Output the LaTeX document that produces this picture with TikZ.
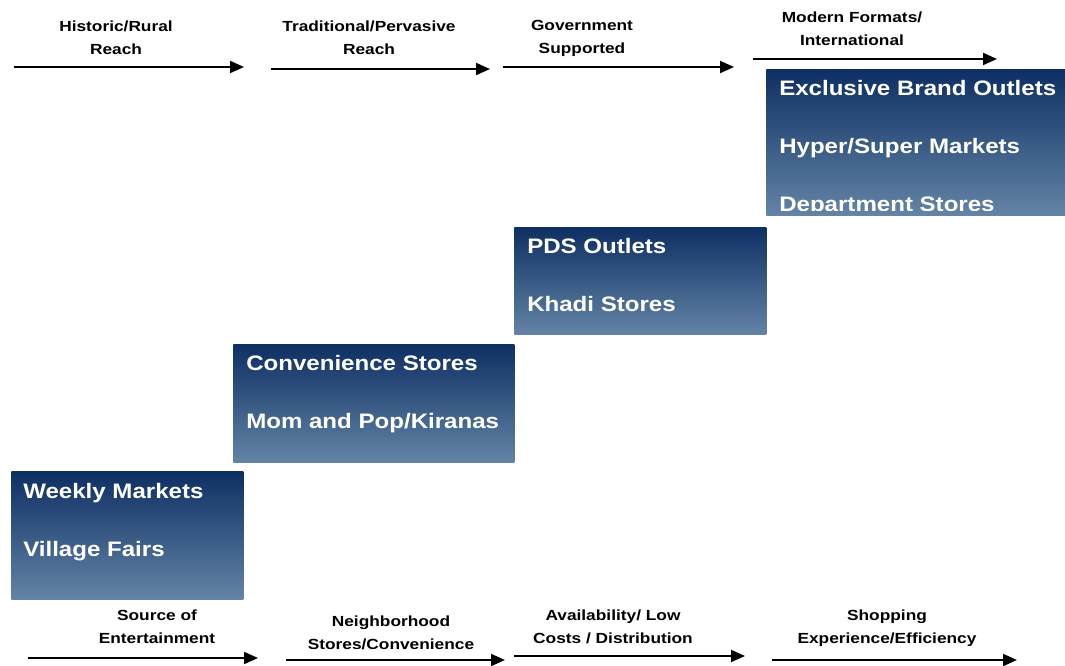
\documentclass[tikz,border=0pt]{standalone}
\usepackage{fontspec}
\setmainfont{Liberation Sans}
\newfontfamily\itemfont[FakeStretch=1.15]{Liberation Sans}
\newfontfamily\trendfont[FakeStretch=1.18]{Liberation Sans}
\usetikzlibrary{arrows.meta}
\definecolor{boxtop}{HTML}{0E2F63}
\definecolor{boxbot}{HTML}{6384A5}

\begin{document}
\begin{tikzpicture}[x=0.75pt, y=-0.75pt,
    stage/.style = {draw=none, top color=boxtop, bottom color=boxbot, inner sep=0pt, anchor=north west},
    item/.style = {anchor=base west, text=white, inner sep=0pt, font=\itemfont\fontsize{15.7}{18}\selectfont\bfseries},
    trend/.style = {align=center, inner sep=0pt, font=\trendfont\fontsize{11}{17.25}\selectfont\bfseries},
    flow/.style = {-{Triangle[length=10.5pt, width=9pt]}, line width=1.5pt}]
    \useasboundingbox (0,0) rectangle (1065,666);

    % stages
    \node[stage, minimum width=224.25pt, minimum height=109.5pt] (modern) at (766,69) {};
    \node[stage, minimum width=189pt, minimum height=80.25pt] (govt) at (514,227) {};
    \node[stage, minimum width=210.75pt, minimum height=88.5pt] (trad) at (233,344) {};
    \node[stage, minimum width=174pt, minimum height=96pt] (hist) at (11,471) {};

    \begin{scope}
    \clip (modern.north west) rectangle ([shift={(0,-5)}]modern.south east);
    \node[item] (ebo) at ([shift={(13,27)}]modern.north west) {Exclusive Brand Outlets};
    \node[item] (hsm) at ([shift={(13,85)}]modern.north west) {Hyper/Super Markets};
    \node[item] (dep) at ([shift={(13,143)}]modern.north west) {Department Stores};
    \end{scope}
    \node[item] (pds) at ([shift={(13,27)}]govt.north west) {PDS Outlets};
    \node[item] (khadi) at ([shift={(13,85)}]govt.north west) {Khadi Stores};
    \node[item] (conv) at ([shift={(13,27)}]trad.north west) {Convenience Stores};
    \node[item] (kirana) at ([shift={(13,85)}]trad.north west) {Mom and Pop/Kiranas};
    \node[item] (weekly) at ([shift={(12,28)}]hist.north west) {Weekly Markets};
    \node[item] (fairs) at ([shift={(12,86)}]hist.north west) {Village Fairs};

    % top arrows
    \coordinate (t1a) at (14,67);  \coordinate (t1b) at (244,67);
    \coordinate (t2a) at (271,69); \coordinate (t2b) at (490,69);
    \coordinate (t3a) at (503,67); \coordinate (t3b) at (734,67);
    \coordinate (t4a) at (753,59); \coordinate (t4b) at (997,59);
    \draw[flow] (t1a) -- (t1b);
    \draw[flow] (t2a) -- (t2b);
    \draw[flow] (t3a) -- (t3b);
    \draw[flow] (t4a) -- (t4b);
    \node[trend] (rural) at (116,38) {Historic/Rural\\Reach};
    \node[trend] (pervasive) at (369,38) {Traditional/Pervasive\\Reach};
    \node[trend] (supported) at (582,38) {Government\\Supported};
    \node[trend] (intl) at (852,28.5) {Modern Formats/\\International};

    % bottom arrows
    \coordinate (b1a) at (28,658);  \coordinate (b1b) at (258,658);
    \coordinate (b2a) at (286,660); \coordinate (b2b) at (505,660);
    \coordinate (b3a) at (514,656); \coordinate (b3b) at (745,656);
    \coordinate (b4a) at (772,660); \coordinate (b4b) at (1017,660);
    \draw[flow] (b1a) -- (b1b);
    \draw[flow] (b2a) -- (b2b);
    \draw[flow] (b3a) -- (b3b);
    \draw[flow] (b4a) -- (b4b);
    \node[trend] (ent) at (157,627) {Source of\\Entertainment};
    \node[trend] (nbhd) at (391,633) {Neighborhood\\Stores/Convenience};
    \node[trend] (avail) at (613,627) {Availability/ Low\\Costs / Distribution};
    \node[trend] (shop) at (887,628) {Shopping\\Experience/Efficiency};
\end{tikzpicture}
\end{document}
